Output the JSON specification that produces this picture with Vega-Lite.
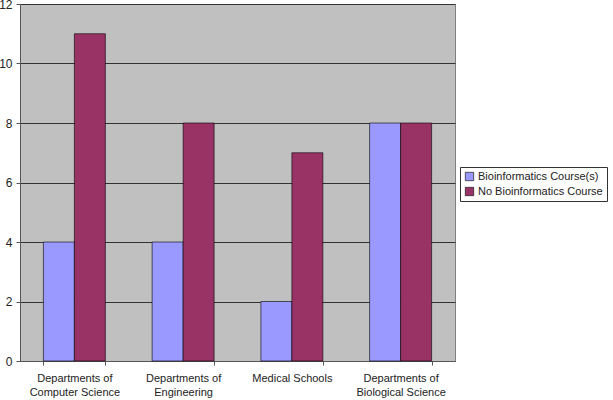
{
  "$schema": "https://vega.github.io/schema/vega-lite/v6.json",
  "width": 435,
  "height": 357,
  "autosize": {"type": "none"},
  "padding": {"left": 20, "top": 4, "right": 158, "bottom": 39},
  "background": "white",
  "config": {
    "font": "Liberation Sans",
    "view": {"fill": "#C0C0C0", "stroke": "#808080", "strokeWidth": 1}
  },
  "data": {
    "values": [
      {"category": "Departments of Computer Science", "series": "Bioinformatics Course(s)", "count": 4},
      {"category": "Departments of Computer Science", "series": "No Bioinformatics Course", "count": 11},
      {"category": "Departments of Engineering", "series": "Bioinformatics Course(s)", "count": 4},
      {"category": "Departments of Engineering", "series": "No Bioinformatics Course", "count": 8},
      {"category": "Medical Schools", "series": "Bioinformatics Course(s)", "count": 2},
      {"category": "Medical Schools", "series": "No Bioinformatics Course", "count": 7},
      {"category": "Departments of Biological Science", "series": "Bioinformatics Course(s)", "count": 8},
      {"category": "Departments of Biological Science", "series": "No Bioinformatics Course", "count": 8}
    ]
  },
  "mark": {"type": "bar", "stroke": "#000000", "strokeWidth": 0.6},
  "encoding": {
    "x": {
      "field": "category",
      "type": "nominal",
      "sort": null,
      "scale": {"paddingInner": 0.43, "paddingOuter": 0.215},
      "axis": {
        "title": null,
        "labelAngle": 0,
        "labelFontSize": 11,
        "labelColor": "#222222",
        "labelPadding": 7,
        "labelLineHeight": 14,
        "tickBand": "extent",
        "tickSize": 4,
        "tickColor": "#555555",
        "domainColor": "#555555",
        "labelExpr": "indexof(datum.label, 'Departments of ') == 0 ? ['Departments of', substring(datum.label, 15)] : datum.label"
      }
    },
    "xOffset": {"field": "series", "type": "nominal", "sort": null, "scale": {"paddingInner": 0, "paddingOuter": 0}},
    "y": {
      "field": "count",
      "type": "quantitative",
      "scale": {"domain": [0, 12], "nice": false},
      "axis": {
        "title": null,
        "values": [0, 2, 4, 6, 8, 10, 12],
        "labelFontSize": 12,
        "labelColor": "#222222",
        "labelPadding": 4,
        "tickSize": 4,
        "tickColor": "#555555",
        "domainColor": "#555555",
        "gridColor": "#333333",
        "gridWidth": 1
      }
    },
    "color": {
      "field": "series",
      "type": "nominal",
      "sort": null,
      "scale": {"range": ["#9999FF", "#993366"]},
      "legend": {
        "title": null,
        "orient": "none",
        "legendX": 440,
        "legendY": 163,
        "symbolType": "square",
        "symbolSize": 70,
        "symbolStrokeColor": "#000000",
        "symbolStrokeWidth": 0.6,
        "labelFontSize": 11,
        "labelColor": "#222222",
        "labelOffset": 3,
        "rowPadding": 3,
        "padding": 4,
        "strokeColor": "#333333",
        "fillColor": "white"
      }
    }
  }
}
